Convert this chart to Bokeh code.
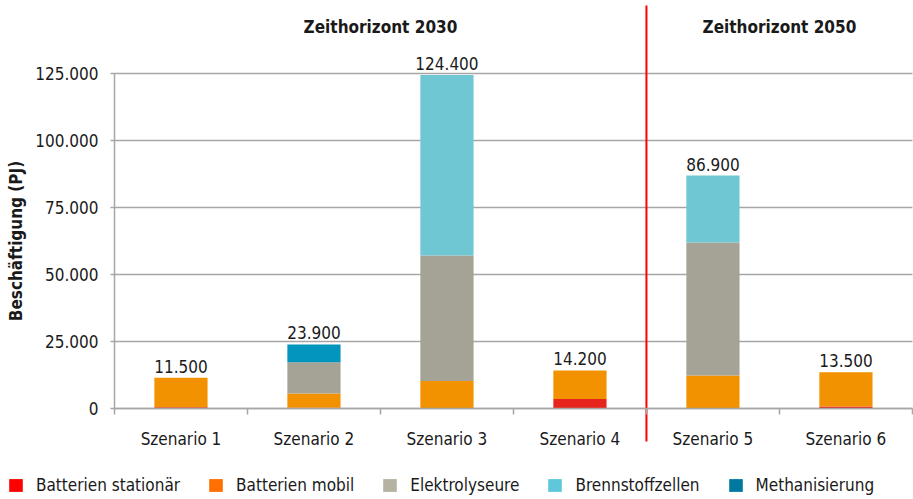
import math
from bokeh.plotting import figure
from bokeh.models import (Range1d, FixedTicker, Label, Legend, LegendItem,
                          LinearAxis, ColumnDataSource)
from bokeh.embed import file_html
from bokeh.resources import INLINE
from bokeh.core.properties import value

# ---------------- data ----------------
scenarios = ["Szenario 1", "Szenario 2", "Szenario 3", "Szenario 4", "Szenario 5", "Szenario 6"]
batterien_stationaer = [500, 300, 0, 3500, 0, 700]
batterien_mobil = [11000, 5300, 10300, 10700, 12300, 12800]
elektrolyseure = [0, 11700, 46800, 0, 49600, 0]
brennstoffzellen = [0, 0, 67300, 0, 25000, 0]
methanisierung = [0, 6600, 0, 0, 0, 0]
totals = [11500, 23900, 124400, 14200, 86900, 13500]
total_labels = ["11.500", "23.900", "124.400", "14.200", "86.900", "13.500"]

series_names = ["Batterien stationär", "Batterien mobil", "Elektrolyseure",
                "Brennstoffzellen", "Methanisierung"]
series_keys = ["stationaer", "mobil", "elektro", "brenn", "methan"]
bar_colors = ["#E8251C", "#F39200", "#A5A296", "#6EC7D2", "#0295BD"]
legend_colors = ["#FF0000", "#FF7000", "#B6B2A1", "#5EC8DA", "#00789F"]

y_ticks = [0, 25000, 50000, 75000, 100000, 125000]
y_tick_labels = ["0", "25.000", "50.000", "75.000", "100.000", "125.000"]
horizon_labels = ["Zeithorizont 2030", "Zeithorizont 2050"]
y_title = "Beschäftigung (PJ)"

FONT = "DejaVu Sans Condensed"
FS = "17px"
TXT = "#1A1A1A"
GRID = "#A6A6A6"

n = len(scenarios)
x_pos = [i + 0.5 for i in range(n)]          # category centres
x_bounds = [float(i) for i in range(n + 1)]  # category boundaries

W, H = 913, 499
p = figure(width=W, height=H,
           x_range=Range1d(-0.857, 6.008),
           y_range=Range1d(-33955, 152239),
           x_axis_location=None, y_axis_location=None,
           output_backend="svg", toolbar_location=None,
           min_border_left=0, min_border_right=0, min_border_top=0,
           min_border_bottom=0)
p.outline_line_color = None
p.background_fill_color = "white"
p.border_fill_color = "white"
p.grid.visible = False

# horizontal grid lines across the category area only
p.segment(x0=[x_bounds[0]] * len(y_ticks), y0=y_ticks,
          x1=[x_bounds[-1]] * len(y_ticks), y1=y_ticks,
          line_color=GRID, line_width=1.5, level="underlay")

# y axis drawn at x = 0 (left edge of the category area)
yaxis = LinearAxis(fixed_location=0, bounds=(0, 125000),
                   ticker=FixedTicker(ticks=y_ticks),
                   major_label_overrides=dict(zip(y_ticks, y_tick_labels)),
                   major_label_text_font=FONT, major_label_text_font_size=FS,
                   major_label_text_color=TXT, major_label_standoff=12,
                   major_tick_in=0, major_tick_out=4,
                   major_tick_line_color=GRID, major_tick_line_width=1.5,
                   minor_tick_line_color=None,
                   axis_line_color=GRID, axis_line_width=1.5)
p.add_layout(yaxis, "left")

# x axis drawn at y = 0; labels at category centres, ticks at boundaries
xaxis = LinearAxis(fixed_location=0, bounds=(0, n),
                   ticker=FixedTicker(ticks=x_pos, minor_ticks=x_bounds),
                   major_label_overrides=dict(zip(x_pos, scenarios)),
                   major_label_text_font=FONT, major_label_text_font_size=FS,
                   major_label_text_color=TXT, major_label_standoff=14,
                   major_tick_in=0, major_tick_out=0, major_tick_line_color=None,
                   minor_tick_in=0, minor_tick_out=6,
                   minor_tick_line_color=GRID, minor_tick_line_width=1.5,
                   axis_line_color=GRID, axis_line_width=1.5)
p.add_layout(xaxis, "below")

# stacked bars
src = ColumnDataSource(dict(x=x_pos,
                            stationaer=batterien_stationaer,
                            mobil=batterien_mobil,
                            elektro=elektrolyseure,
                            brenn=brennstoffzellen,
                            methan=methanisierung,
                            total=totals,
                            label=total_labels))
p.vbar_stack(series_keys, x="x", width=0.4, color=bar_colors, source=src,
             line_color=None)

p.text(x="x", y="total", text="label", source=src,
       text_align="center", text_baseline="bottom", y_offset=-5,
       text_font=value(FONT), text_font_size=FS, text_color=TXT)

# separator between the two horizons (boundary between Szenario 4 and 5)
sep_x = x_bounds[4]
p.segment(x0=[sep_x], y0=[150400], x1=[sep_x], y1=[-12300],
          line_color="#FF0000", line_width=2)

# horizon titles
for xpos, txt in zip([2.0, 5.0], horizon_labels):
    p.add_layout(Label(x=xpos, y=142300, text=txt, text_align="center",
                       text_baseline="middle", text_font=FONT, text_font_style="bold",
                       text_font_size=FS, text_color=TXT))

# y axis title
p.add_layout(Label(x=-0.737, y=62500, text=y_title,
                   angle=math.pi / 2, text_align="center", text_baseline="middle",
                   text_font=FONT, text_font_style="bold", text_font_size=FS,
                   text_color=TXT))

# legend (own swatch colours; zero-height proxies so nothing shows in the plot)
legend_renderers = [p.vbar(x=[x_pos[0]], top=[0], bottom=[0], width=0.4,
                           fill_color=c, line_color=None) for c in legend_colors]
legend = Legend(items=[LegendItem(label=nm, renderers=[r])
                       for nm, r in zip(series_names, legend_renderers)],
                orientation="horizontal", location=(7, 4),
                glyph_width=17, glyph_height=16, label_standoff=12, spacing=27,
                padding=0, margin=0, border_line_color=None, background_fill_alpha=0,
                label_text_font=FONT, label_text_font_size=FS, label_text_color=TXT,
                label_height=16)
p.add_layout(legend)

open("out.html", "w").write(file_html(p, INLINE))
